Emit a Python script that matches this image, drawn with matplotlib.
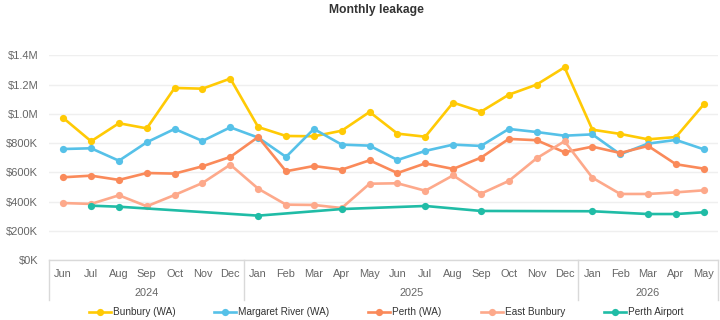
import numpy as np
import matplotlib
matplotlib.use("Agg")
import matplotlib.pyplot as plt
from matplotlib.ticker import FuncFormatter, MultipleLocator

plt.rcParams["font.family"] = ["Liberation Sans", "DejaVu Sans"]

# Monthly leakage, in thousands of dollars (Jun 2024 - May 2026)
months = ["Jun", "Jul", "Aug", "Sep", "Oct", "Nov", "Dec",
          "Jan", "Feb", "Mar", "Apr", "May", "Jun", "Jul", "Aug", "Sep", "Oct", "Nov", "Dec",
          "Jan", "Feb", "Mar", "Apr", "May"]
years = ["2024", "2025", "2026"]
year_spans = [(0, 6), (7, 18), (19, 23)]

bunbury = [972, 813, 936, 901, 1177, 1172, 1241,
           910, 849, 847, 885, 1013, 865, 844, 1077, 1015, 1131, 1200, 1318,
           892, 863, 826, 842, 1065]
margaret_river = [760, 765, 680, 806, 897, 815, 908,
                  838, 706, 897, 790, 783, 685, 747, 790, 781, 897, 876, 851,
                  860, 724, 797, 822, 758]
perth = [567, 578, 549, 596, 592, 642, 706,
         842, 608, 644, 619, 683, 596, 662, 624, 701, 829, 820, 738,
         776, 733, 781, 656, 626]
east_bunbury = [391, 385, 444, 369, 446, 528, 653,
                489, 380, 378, 357, 523, 526, 475, 580, 455, 542, 697, 813,
                564, 453, 453, 464, 478]
perth_airport = [np.nan, 373, 366, np.nan, np.nan, np.nan, np.nan,
                 305, np.nan, np.nan, 350, np.nan, np.nan, 371, np.nan, 337, np.nan, np.nan, np.nan,
                 335, np.nan, 316, 316, 328]

series = [
    ("Bunbury (WA)", bunbury, "#FFCA05"),
    ("Margaret River (WA)", margaret_river, "#56C1E8"),
    ("Perth (WA)", perth, "#FA8A5A"),
    ("East Bunbury", east_bunbury, "#FDA98B"),
    ("Perth Airport", perth_airport, "#20BCA6"),
]

W, H = 720, 320
fig = plt.figure(figsize=(W / 100, H / 100), dpi=100)
left, right, top, bottom = 49.3, 717.7, 55.3, 260.3
ax = fig.add_axes([left / W, 1 - bottom / H, (right - left) / W, (bottom - top) / H])

x = np.arange(len(months))
for name, vals, color in series:
    v = np.asarray(vals, dtype=float) * 1000
    ok = ~np.isnan(v)
    ax.plot(x[ok], v[ok], color=color, lw=1.9, marker="o", ms=5.2,
            markeredgewidth=0, label=name, solid_joinstyle="round", clip_on=False)

ax.set_xlim(-0.5, len(months) - 0.5)
ax.set_ylim(0, 1.4e6)
ax.yaxis.set_major_locator(MultipleLocator(200000))


def money(v, _pos):
    if v >= 1e6:
        return f"${v / 1e6:.1f}M"
    return f"${v / 1e3:.0f}K"


ax.yaxis.set_major_formatter(FuncFormatter(money))
ax.grid(axis="y", color="#EFEFEF", lw=1)
ax.set_axisbelow(True)
for s in ("top", "right", "left"):
    ax.spines[s].set_visible(False)
ax.spines["bottom"].set_color("#D9D9D9")
ax.spines["bottom"].set_linewidth(1)

ax.tick_params(axis="y", length=0, pad=8, labelsize=8, labelcolor="#666666")
ax.set_xticks(x, months)
ax.tick_params(axis="x", length=0, pad=6, labelsize=7.9, labelcolor="#666666")

# year grouping row under the month labels
sep_bottom = (bottom - 300) / (bottom - top)
for xs in [-0.5, 6.5, 18.5, len(months) - 0.5]:
    ax.plot([xs, xs], [0, sep_bottom], transform=ax.get_xaxis_transform(),
            color="#D9D9D9", lw=1, clip_on=False)
year_y = (bottom - 293.3) / (bottom - top)
for yr, (a, b) in zip(years, year_spans):
    ax.text((a + b) / 2, year_y, yr, transform=ax.get_xaxis_transform(),
            ha="center", va="center", fontsize=7.9, color="#666666")

fig.text(376 / W, 1 - 9.5 / H, "Monthly leakage", ha="center", va="center",
         fontsize=8.7, fontweight="bold", color="#333333")

fig.legend(loc="center", bbox_to_anchor=(386 / W, 1 - 312 / H), ncol=5,
           frameon=False, fontsize=7.2, handlelength=2.2, handletextpad=0.2,
           columnspacing=3.9, borderpad=0, borderaxespad=0, labelcolor="#333333")

fig.savefig("out.png", dpi=100, facecolor="white")
